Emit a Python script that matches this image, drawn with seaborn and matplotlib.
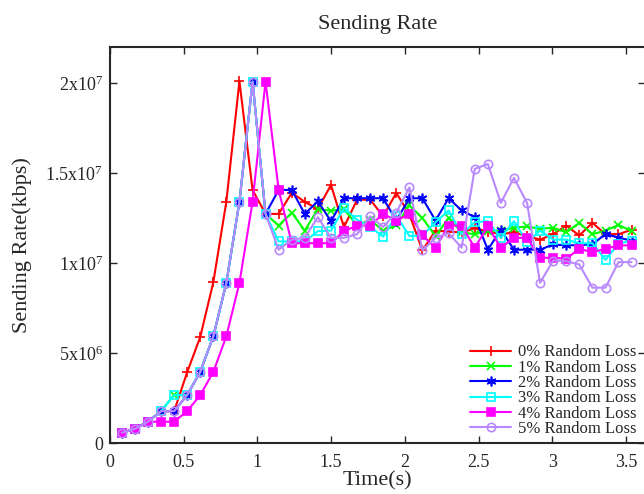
import numpy as np
import pandas as pd
import seaborn as sns
import matplotlib.pyplot as plt

# sampling times (s)
times = [0.080, 0.169, 0.257, 0.346, 0.435, 0.523, 0.612, 0.701, 0.789, 0.878,
         0.967, 1.055, 1.144, 1.233, 1.321, 1.410, 1.499, 1.587, 1.676, 1.765,
         1.853, 1.942, 2.031, 2.119, 2.208, 2.297, 2.385, 2.474, 2.563, 2.651,
         2.740, 2.829, 2.917, 3.006, 3.095, 3.183, 3.272, 3.361, 3.449, 3.538]

# sending rate, in units of 1e6 kbps
loss0 = [0.57, 0.79, 1.18, 1.77, 1.77, 3.92, 5.89, 8.94, 13.4, 20.1,
         14.06, 12.73, 12.73, 13.9, 13.4, 13.0, 14.34, 11.99, 13.52, 13.52,
         12.6, 13.9, 12.7, 10.7, 11.8, 11.75, 11.7, 11.93, 11.75, 11.6,
         11.7, 11.5, 11.3, 11.6, 12.08, 11.53, 12.23, 11.6, 11.6, 11.85]
loss1 = [0.57, 0.79, 1.18, 1.77, 2.66, 2.66, 3.95, 5.93, 8.89, 13.4,
         20.08, 12.73, 12.08, 12.8, 11.8, 13.0, 12.9, 13.0, 12.1, 12.4,
         11.8, 12.1, 13.2, 12.5, 11.5, 12.5, 11.7, 11.6, 11.8, 11.8,
         11.96, 12.03, 11.9, 11.96, 11.7, 12.23, 11.6, 11.8, 12.12, 11.77]
loss2 = [0.57, 0.79, 1.18, 1.77, 1.77, 2.66, 3.95, 5.93, 8.89, 13.4,
         20.08, 12.73, 14.06, 14.06, 12.73, 13.43, 12.32, 13.6, 13.6, 13.6,
         13.6, 12.36, 13.6, 13.6, 12.36, 13.6, 12.92, 12.55, 10.74, 11.85,
         10.74, 10.74, 10.74, 11.03, 10.98, 11.0, 11.03, 11.62, 11.4, 11.25]
loss3 = [0.57, 0.79, 1.18, 1.77, 2.66, 2.66, 3.95, 5.93, 8.89, 13.4,
         20.08, 12.73, 11.2, 11.2, 11.2, 11.77, 11.8, 13.06, 12.4, 12.0,
         11.47, 12.64, 11.5, 11.53, 12.27, 12.92, 11.6, 12.27, 12.32, 11.4,
         12.32, 11.16, 11.8, 11.3, 11.3, 11.1, 11.1, 10.18, 11.07, 11.25]
loss4 = [0.57, 0.79, 1.18, 1.18, 1.18, 1.77, 2.66, 3.95, 5.93, 8.89,
         13.4, 20.08, 14.06, 11.1, 11.1, 11.1, 11.1, 11.77, 12.08, 12.08,
         12.73, 12.36, 12.73, 11.53, 10.85, 12.08, 12.08, 10.85, 12.03, 10.85,
         11.4, 11.4, 10.29, 10.29, 10.24, 10.79, 10.6, 10.79, 10.98, 10.98]
loss5 = [0.57, 0.79, 1.18, 1.77, 1.77, 2.66, 3.95, 5.93, 8.89, 13.4,
         20.08, 12.73, 10.74, 11.3, 11.4, 12.55, 11.4, 11.4, 11.6, 12.6,
         12.0, 12.8, 14.2, 10.7, 11.4, 11.66, 10.85, 15.23, 15.5, 13.34,
         14.73, 13.34, 8.9, 10.14, 10.1, 9.92, 8.63, 8.63, 10.05, 10.05]

labels = ["0% Random Loss", "1% Random Loss", "2% Random Loss",
          "3% Random Loss", "4% Random Loss", "5% Random Loss"]
series = [loss0, loss1, loss2, loss3, loss4, loss5]
colors = ["#ff0000", "#00ff00", "#0000ff", "#00ffff", "#ff00ff", "#b888ff"]
markers = ["+", "x", (6, 2, 0), "s", "s", "o"]
msizes = [7, 6, 7, 5.5, 5.5, 6]
hollow = [False, False, False, True, False, True]

sns.set_style("ticks")
plt.rcParams["font.family"] = ["Liberation Serif", "DejaVu Serif"]
plt.rcParams["mathtext.default"] = "regular"

fig = plt.figure(figsize=(6.44, 4.94), dpi=100)
ax = fig.add_axes([0.1708, 0.1032, 0.8310, 0.8016])

for lab, vals, col, mk, ms, ho in zip(labels, series, colors, markers, msizes, hollow):
    df = pd.DataFrame({"t": times, "rate": np.array(vals) * 1e6})
    kw = dict(markerfacecolor="none") if ho else {}
    sns.lineplot(data=df, x="t", y="rate", ax=ax, color=col, marker=mk,
                 markersize=ms, markeredgewidth=1.2,
                 linewidth=1.5, label=lab, markeredgecolor=col, **kw)

ax.set_xlim(0, 3.63)
ax.set_ylim(0, 2.2e7)
ax.set_xticks([0, 0.5, 1, 1.5, 2, 2.5, 3, 3.5],
              labels=["0", "0.5", "1", "1.5", "2", "2.5", "3", "3.5"])
ax.set_yticks([0, 5e6, 1e7, 1.5e7, 2e7],
              labels=["0", "$5x10^{6}$", "$1x10^{7}$", "$1.5x10^{7}$", "$2x10^{7}$"])
ax.tick_params(direction="in", length=5, width=1, top=True, right=True,
               labelsize=13)
ax.tick_params(axis="x", pad=8)
ax.tick_params(axis="y", pad=5)
for s in ax.spines.values():
    s.set_linewidth(1.5)

ax.set_title("Sending Rate", fontsize=16, pad=13)
ax.set_xlabel("Time(s)", fontsize=16, labelpad=0)
ax.set_ylabel("Sending Rate(kbps)", fontsize=16, labelpad=10)

ax.legend(loc="lower right", bbox_to_anchor=(0.995, 0.0), frameon=False,
          fontsize=12, handlelength=2.45, handletextpad=0.42,
          labelspacing=-0.04, borderpad=0.36, borderaxespad=0.0)

fig.savefig("out.png", dpi=100)
